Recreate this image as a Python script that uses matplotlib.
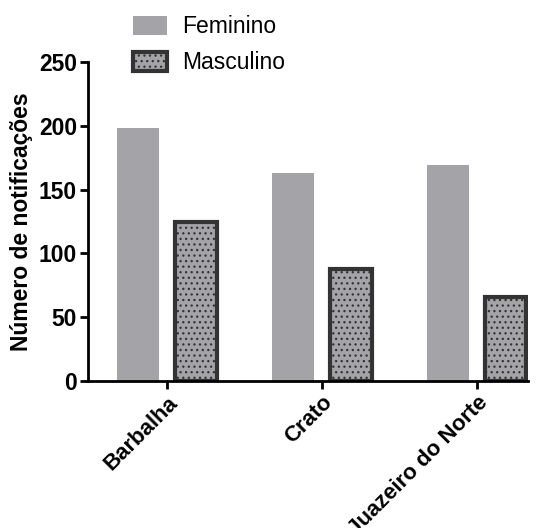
import matplotlib.pyplot as plt
import numpy as np

plt.rcParams['font.family'] = ['Liberation Sans', 'DejaVu Sans']
plt.rcParams['hatch.linewidth'] = 0.9
plt.rcParams['hatch.color'] = '#3a3a3a'

cidades = ["Barbalha", "Crato", "Juazeiro do Norte"]
feminino = [198, 163, 169]
masculino = [125, 88, 66]

x = np.arange(len(cidades))
w = 0.27
off = 0.185

fig = plt.figure(figsize=(5.47, 5.28), dpi=100)
ax = fig.add_axes([88/547, 1 - 381/528, (528 - 88)/547, (381 - 62)/528])

ax.bar(x - off, feminino, w, color="#a4a4a8", label="Feminino")
ax.bar(x + off, masculino, w, color="#a4a4a8", edgecolor="#333333",
       linewidth=3, hatch="...", label="Masculino")

ax.set_ylim(0, 250)
ax.set_xlim(-0.51, 2.33)
ax.set_yticks([0, 50, 100, 150, 200, 250])
ax.set_xticks(x)
ax.set_xticklabels(cidades, rotation=45, ha="right", rotation_mode="anchor",
                   fontsize=16, fontweight="bold")
for lab in ax.get_yticklabels():
    lab.set_fontsize(16.5)
    lab.set_fontweight("bold")
ax.set_ylabel("Número de notificações", fontsize=16.5, fontweight="bold",
              labelpad=4)

for s in ["top", "right"]:
    ax.spines[s].set_visible(False)
for s in ["left", "bottom"]:
    ax.spines[s].set_linewidth(2)
ax.tick_params(width=2, length=6, pad=2)

fig.legend(loc="upper left", bbox_to_anchor=(112/547, 1.01), frameon=False,
           fontsize=16.5, handlelength=1.5, handleheight=0.9,
           labelspacing=0.55, handletextpad=0.65)

fig.savefig("out.png", dpi=100)
